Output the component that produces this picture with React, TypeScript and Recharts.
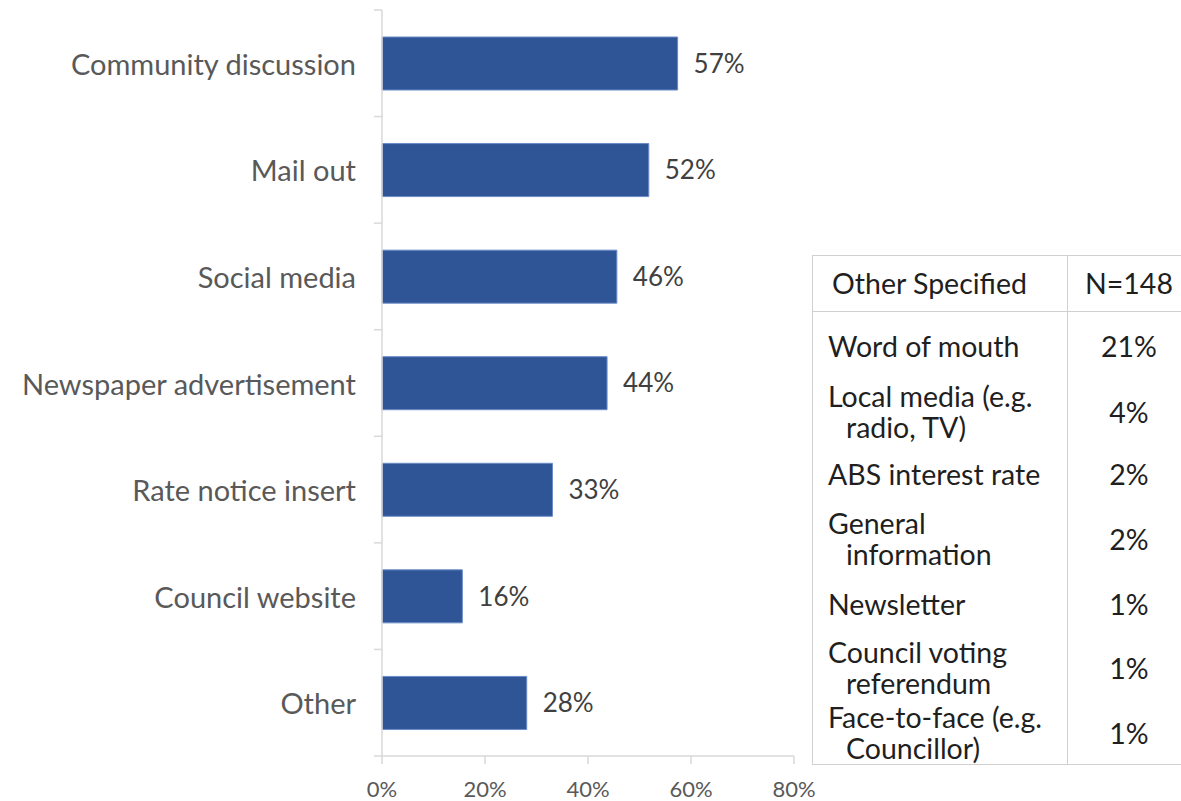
import { BarChart, Bar, XAxis, YAxis, LabelList } from "recharts"

const categories = [
  "Community discussion",
  "Mail out",
  "Social media",
  "Newspaper advertisement",
  "Rate notice insert",
  "Council website",
  "Other",
]
const shares = [57.4, 51.8, 45.6, 43.7, 33.1, 15.6, 28.1]
const xTicks = [0, 20, 40, 60, 80]

const otherHeader = ["Other Specified", "N=148"]
const otherLabels = [
  ["Word of mouth"],
  ["Local media (e.g.", "radio, TV)"],
  ["ABS interest rate"],
  ["General", "information"],
  ["Newsletter"],
  ["Council voting", "referendum"],
  ["Face-to-face (e.g.", "Councillor)"],
]
const otherValues = ["21%", "4%", "2%", "2%", "1%", "1%", "1%"]

const W = 1181
const H = 801
const MARGIN = { top: 10, right: 387, bottom: 0, left: 0 }
const X_AXIS_H = 45
const Y_AXIS_W = 382
const BAND = (H - MARGIN.top - MARGIN.bottom - X_AXIS_H) / categories.length
const FONT = "Lato, 'DejaVu Sans', sans-serif"
const Y_TICK_SIZE = 8
const Y_TICK_MARGIN = 18

// table row heights (layout only)
const rowHeights = [68, 64, 60, 70, 60, 68, 62]

const chartData = categories.map((name, i) => ({ name, value: shares[i] }))

function CategoryTick(props: any) {
  const { x, y, payload, index, visibleTicksCount } = props
  const axisX = x + Y_TICK_SIZE + Y_TICK_MARGIN
  const half = BAND / 2
  return (
    <g>
      <text
        x={x}
        y={y}
        textAnchor="end"
        dominantBaseline="central"
        fontSize={29}
        fill="#595959"
        fontFamily={FONT}
      >
        {payload.value}
      </text>
      <line x1={axisX - 8} x2={axisX} y1={y - half} y2={y - half} stroke="#d9d9d9" strokeWidth={1.5} />
      {index === visibleTicksCount - 1 && (
        <line x1={axisX - 8} x2={axisX} y1={y + half} y2={y + half} stroke="#d9d9d9" strokeWidth={1.5} />
      )}
    </g>
  )
}

function OtherTable() {
  const border = "1.5px solid #d0d0d0"
  const cellText = { fontSize: 28.5, color: "#1f1f1f", lineHeight: "31px" }
  return (
    <div
      style={{
        position: "absolute",
        left: 812,
        top: 255,
        width: 380,
        borderTop: border,
        borderLeft: border,
        borderBottom: border,
        fontFamily: FONT,
      }}
    >
      <div style={{ display: "flex", height: 55, borderBottom: border, alignItems: "center" }}>
        <div style={{ ...cellText, width: 255, paddingLeft: 19, boxSizing: "border-box", borderRight: border, height: "100%", display: "flex", alignItems: "center" }}>
          {otherHeader[0]}
        </div>
        <div style={{ ...cellText, width: 122, textAlign: "center" }}>{otherHeader[1]}</div>
      </div>
      {otherLabels.map((lines, i) => (
        <div key={i} style={{ display: "flex", height: rowHeights[i], alignItems: "center" }}>
          <div
            style={{
              ...cellText,
              width: 255,
              paddingLeft: 15,
              boxSizing: "border-box",
              borderRight: border,
              height: "100%",
              display: "flex",
              flexDirection: "column",
              justifyContent: "center",
              whiteSpace: "nowrap",
            }}
          >
            {lines.map((l, j) => (
              <div key={j} style={{ paddingLeft: j > 0 ? 18 : 0 }}>
                {l}
              </div>
            ))}
          </div>
          <div style={{ ...cellText, width: 122, textAlign: "center" }}>{otherValues[i]}</div>
        </div>
      ))}
    </div>
  )
}

export default function App() {
  return (
    <div style={{ position: "absolute", left: 0, top: 0, width: W, height: H, background: "#fff", overflow: "hidden" }}>
      <BarChart width={W} height={H} data={chartData} layout="vertical" margin={MARGIN}>
        <XAxis
          type="number"
          domain={[0, 80]}
          ticks={xTicks}
          tickFormatter={(v: number) => `${v}%`}
          height={X_AXIS_H}
          axisLine={{ stroke: "#d9d9d9", strokeWidth: 1.5 }}
          tickLine={{ stroke: "#d9d9d9", strokeWidth: 1.5 }}
          tickSize={8}
          tickMargin={17}
          tick={{ fill: "#595959", fontSize: 22, fontFamily: FONT }}
        />
        <YAxis
          type="category"
          dataKey="name"
          width={Y_AXIS_W}
          axisLine={{ stroke: "#d9d9d9", strokeWidth: 1.5 }}
          tickLine={false}
          tickSize={Y_TICK_SIZE}
          tickMargin={Y_TICK_MARGIN}
          tick={<CategoryTick />}
        />
        <Bar
          dataKey="value"
          fill="#2F5597"
          stroke="#6a8bc6"
          strokeWidth={1}
          barSize={Math.round(BAND / 2)}
          isAnimationActive={false}
        >
          <LabelList
            dataKey="value"
            position="right"
            offset={16}
            formatter={(v: any) => `${Math.round(Number(v))}%`}
            fill="#404040"
            fontSize={26}
            fontFamily={FONT}
          />
        </Bar>
      </BarChart>
      <OtherTable />
    </div>
  )
}
